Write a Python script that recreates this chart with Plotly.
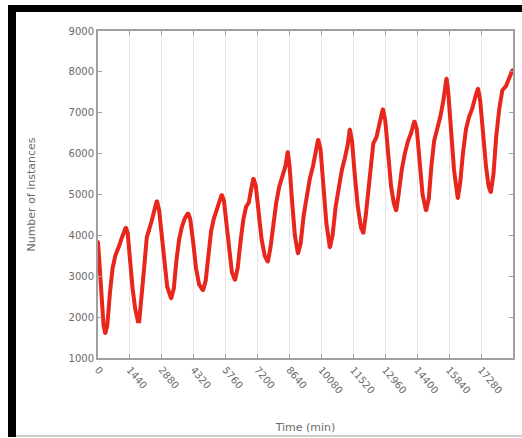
import plotly.graph_objects as go

# Data (time in minutes, number of instances)
time_min = [0, 60, 150, 250, 330, 420, 540, 660, 780, 860, 960, 1080, 1200, 1260, 1340, 1440,
            1560, 1680, 1800, 1860, 1960, 2080, 2200, 2300, 2420, 2560, 2660, 2760, 2880, 3000,
            3120, 3300, 3420, 3540, 3660, 3780, 3900, 4060, 4160, 4300, 4420, 4560, 4740, 4860,
            4980, 5100, 5220, 5380, 5580, 5680, 5800, 5920, 6040, 6180, 6300, 6440, 6560, 6680,
            6800, 6900, 7010, 7120, 7240, 7380, 7520, 7660, 7780, 7900, 8040, 8180, 8340, 8460,
            8560, 8640, 8760, 8880, 9020, 9140, 9280, 9420, 9560, 9700, 9820, 9930, 10040, 10160,
            10300, 10460, 10580, 10720, 10860, 11000, 11140, 11260, 11360, 11460, 11580, 11720,
            11860, 11970, 12080, 12200, 12320, 12420, 12560, 12700, 12850, 12960, 13080, 13220,
            13340, 13450, 13560, 13700, 13840, 13980, 14120, 14270, 14380, 14500, 14640, 14800,
            14920, 15040, 15160, 15300, 15440, 15580, 15720, 15800, 15920, 16060, 16230, 16340,
            16460, 16600, 16740, 16880, 17000, 17140, 17240, 17360, 17500, 17620, 17720, 17840,
            17960, 18100, 18240, 18400, 18560, 18700]
instances = [3850, 3300, 2500, 1800, 1600, 1800, 2600, 3200, 3500, 3650, 3750, 3950, 4150, 4200, 4050, 3400,
             2700, 2200, 1900, 1900, 2400, 3200, 3950, 4100, 4350, 4650, 4850, 4600, 3900, 3200,
             2750, 2450, 2700, 3400, 3900, 4200, 4400, 4550, 4400, 3800, 3200, 2800, 2650, 2900,
             3600, 4100, 4400, 4700, 5000, 4850, 4300, 3600, 3100, 2900, 3200, 3900, 4400, 4700,
             4800, 5100, 5400, 5200, 4600, 3900, 3500, 3350, 3700, 4300, 4800, 5200, 5500, 5700,
             6050, 5700, 4800, 4000, 3550, 3800, 4500, 5000, 5400, 5700, 6000, 6350, 6100, 5300,
             4300, 3700, 4000, 4700, 5200, 5600, 5900, 6200, 6600, 6300, 5500, 4700,
             4200, 4050, 4500, 5200, 5800, 6250, 6400, 6700, 7100, 6800, 6000, 5200,
             4800, 4600, 5000, 5600, 6000, 6300, 6500, 6800, 6600, 5800, 5000, 4600,
             4900, 5700, 6300, 6600, 6900, 7300, 7850, 7500, 6600, 5600, 4900, 5300,
             6000, 6600, 6900, 7100, 7350, 7600, 7300, 6500, 5700, 5200, 5050, 5500,
             6400, 7100, 7550, 7650, 7900, 8050]

x_ticks = [0, 1440, 2880, 4320, 5760, 7200, 8640, 10080, 11520, 12960, 14400, 15840, 17280, 18720]
y_ticks = [1000, 2000, 3000, 4000, 5000, 6000, 7000, 8000, 9000]

W, H = 522, 438
L, R, T, B = 98, 9, 31, 80
pw, ph = W - L - R, H - T - B


def px(x):
    return (x - L) / pw


def py(y):
    return (H - B - y) / ph


FONT = "DejaVu Sans"
TXT = "#6a6a6a"

fig = go.Figure()
fig.add_trace(go.Scatter(
    x=time_min, y=instances, mode="lines+markers",
    line=dict(color="#e8261c", width=4),
    marker=dict(color="#e8261c", size=3),
    showlegend=False, hoverinfo="skip",
))

axis_common = dict(
    showline=True, linecolor="#a0a0a0", linewidth=2, mirror="allticks",
    ticks="inside", ticklen=4, tickcolor="#a0a0a0",
    tickfont=dict(family=FONT, size=10, color=TXT),
    zeroline=False,
)

fig.update_xaxes(
    range=[0, 18720], tickvals=x_ticks, ticktext=[str(v) for v in x_ticks],
    tickangle=50, showgrid=True, gridcolor="#e6e6e6", gridwidth=1,
    title=dict(text="Time (min)", font=dict(family=FONT, size=11, color=TXT), standoff=28),
    automargin=False, **axis_common,
)
fig.update_yaxes(
    range=[1000, 9000], tickvals=y_ticks, ticktext=[str(v) for v in y_ticks],
    showgrid=False,
    title=dict(text="Number of instances", font=dict(family=FONT, size=11, color=TXT), standoff=31),
    automargin=False, **axis_common,
)

shapes = [
    # thick black frame of the screenshot (top and left)
    dict(type="rect", xref="paper", yref="paper", x0=px(8), x1=px(W + 5), y0=py(12), y1=py(5),
         fillcolor="black", line=dict(width=0), layer="above"),
    dict(type="rect", xref="paper", yref="paper", x0=px(8), x1=px(16), y0=py(437), y1=py(5),
         fillcolor="black", line=dict(width=0), layer="above"),
    dict(type="line", xref="paper", yref="paper", x0=px(16), x1=px(W + 5), y0=py(436), y1=py(436),
         line=dict(color="#bdbdbd", width=1.5)),
]

fig.update_layout(
    width=W, height=H, margin=dict(l=L, r=R, t=T, b=B),
    paper_bgcolor="white", plot_bgcolor="white",
    shapes=shapes,
)

fig.write_html("out.html", config={"displayModeBar": False},
               post_script="document.body.style.margin='0px';")
